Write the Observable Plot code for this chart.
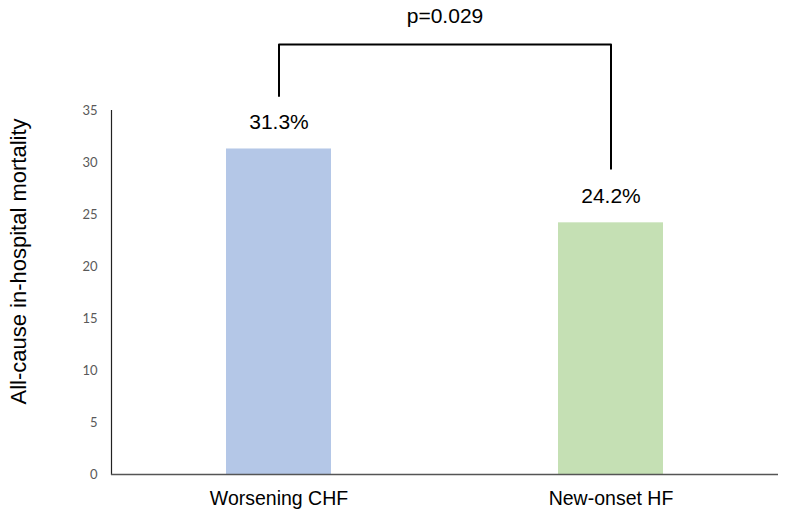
<!DOCTYPE html>
<html>
<head>
<meta charset="utf-8">
<script src="https://cdn.jsdelivr.net/npm/d3@7"></script>
<script src="https://cdn.jsdelivr.net/npm/@observablehq/plot@0.6"></script>
<style>
  html, body { margin: 0; padding: 0; background: #fff; }
  #chart svg { display: block; }
</style>
</head>
<body>
<div id="chart"></div>
<script>
const categories = ["Worsening CHF", "New-onset HF"];
const mortality = [31.3, 24.2];
const valueLabels = ["31.3%", "24.2%"];
const barColors = ["#b4c7e7", "#c5e0b4"];
const yTicks = [0, 5, 10, 15, 20, 25, 30, 35];
const yLabel = "All-cause in-hospital mortality";
const pLabel = "p=0.029";
const bracketY = [36.4, 41.35, 41.35, 29.4];
const bracketX = [categories[0], categories[0], categories[1], categories[1]];

const bars = categories.map((c, i) => ({cat: c, v: mortality[i], label: valueLabels[i], color: barColors[i]}));
const bracket = bracketX.map((c, i) => ({cat: c, y: bracketY[i]}));

const chart = Plot.plot({
  width: 785,
  height: 517,
  marginTop: 110,
  marginBottom: 43,
  marginLeft: 111,
  marginRight: 7,
  style: {fontFamily: "'Liberation Sans', Arial, sans-serif", background: "#fff"},
  x: {domain: categories, paddingInner: 0.685, paddingOuter: 0.345, label: null},
  y: {domain: [0, 35], label: null},
  marks: [
    Plot.barY(bars, {x: "cat", y: "v", fill: "color"}),
    Plot.axisY({ticks: yTicks, tickSize: 0, tickPadding: 14, fontSize: 13, fill: "#595959", fontFamily: "Lato, 'Open Sans', sans-serif", label: null}),
    Plot.axisX({tickSize: 0, tickPadding: 17, fontSize: 19.5, fill: "#000", label: null}),
    Plot.frame({anchor: "left", stroke: "#222", strokeWidth: 1.2}),
    Plot.ruleY([0], {stroke: "#555", strokeWidth: 1.5}),
    Plot.text(bars, {x: "cat", y: "v", text: "label", dy: -27, fontSize: 21, fill: "#000"}),
    Plot.line(bracket, {x: "cat", y: "y", stroke: "#000", strokeWidth: 2}),
    Plot.text([pLabel], {frameAnchor: "top", textAnchor: "middle", lineAnchor: "middle", dy: -94, fontSize: 21, fill: "#000", text: d => d}),
    Plot.text([yLabel], {frameAnchor: "left", textAnchor: "middle", lineAnchor: "middle", rotate: -90, dx: -93, dy: -31, fontSize: 22, fill: "#000", text: d => d})
  ]
});
document.getElementById("chart").appendChild(chart);
</script>
</body>
</html>
